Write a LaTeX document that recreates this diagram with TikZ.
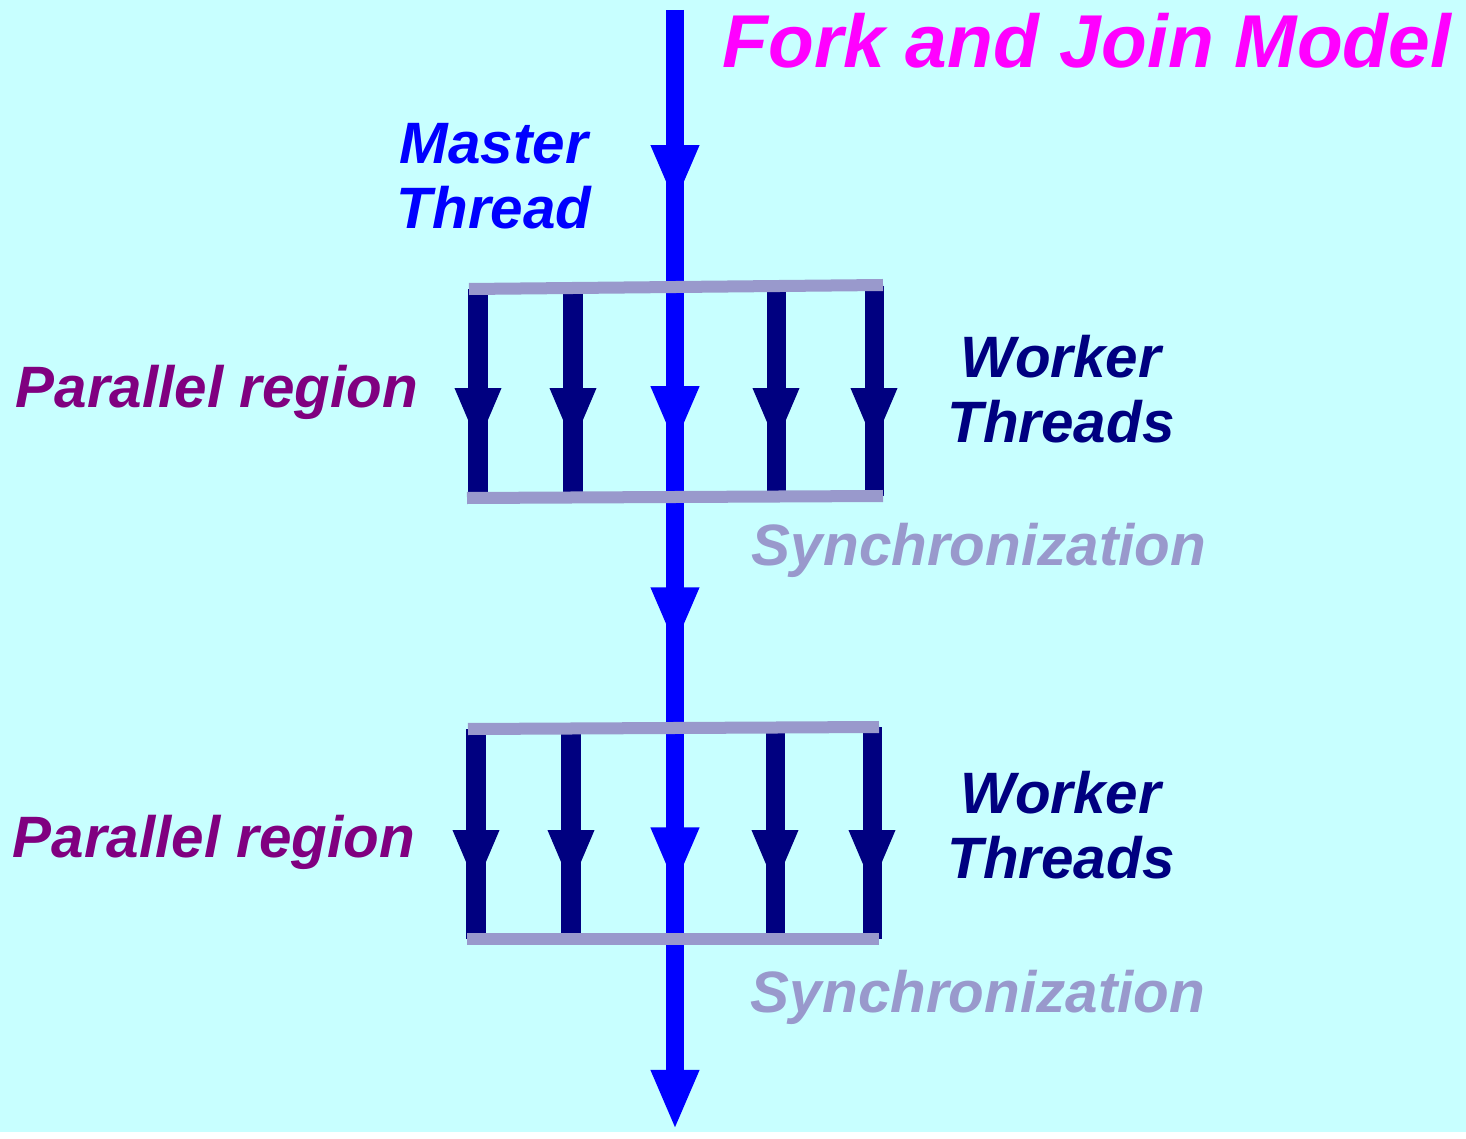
\documentclass[tikz,border=0pt]{standalone}
\usepackage{fontspec}
\setmainfont{Liberation Sans}
\usetikzlibrary{arrows.meta,decorations.markings}

\definecolor{bgcyan}{HTML}{C8FFFF}
\definecolor{masterblue}{HTML}{0000FF}
\definecolor{workernavy}{HTML}{000080}
\definecolor{barlilac}{HTML}{9999CC}
\definecolor{regionpurple}{HTML}{800080}
\definecolor{titlemagenta}{HTML}{FF00FF}

\tikzset{
  master/.style={color=masterblue, line width=0.18cm},
  worker/.style={color=workernavy, line width=0.19cm},
  syncbar/.style={color=barlilac, line width=0.12cm},
  mtip/.tip={Triangle[length=0.6cm,width=0.44cm]},
  wtip/.tip={Triangle[length=0.58cm,width=0.42cm]},
  whead/.style={postaction={decorate},
    decoration={markings, mark=at position #1 with {\arrow{wtip}}}},
  lbl/.style={font=\fontsize{16.6pt}{18.5pt}\selectfont\bfseries\itshape, inner sep=0pt},
  titlelbl/.style={font=\fontsize{21.3pt}{24pt}\selectfont\bfseries\itshape, inner sep=0pt}
}

\begin{document}
\begin{tikzpicture}[x=0.01cm, y=-0.01cm]
      \fill[bgcyan] (0,0) rectangle (1466,1132);
      \path
        (675,10) coordinate (mstart)
        (675,1130) coordinate (mend)
        (469,289) coordinate (fork1w)
        (883,285) coordinate (fork1e)
        (467,498) coordinate (join1w)
        (883,496) coordinate (join1e)
        (468,729) coordinate (fork2w)
        (879,727) coordinate (fork2e)
        (467,939) coordinate (join2w)
        (879,939) coordinate (join2e)
        (478,289) coordinate (a1) (478,497) coordinate (b1)
        (573,289) coordinate (a2) (573,497) coordinate (b2)
        (776,287) coordinate (a3) (776,496) coordinate (b3)
        (874,286) coordinate (a4) (874,496) coordinate (b4)
        (476,729) coordinate (c1) (476,939) coordinate (d1)
        (571,729) coordinate (c2) (571,939) coordinate (d2)
        (775,728) coordinate (c3) (775,939) coordinate (d3)
        (872,727) coordinate (c4) (872,939) coordinate (d4);
      \draw[master, -mtip, postaction={decorate},
        decoration={markings,
          mark=at position 1.95cm with {\arrow{mtip}},
          mark=at position 4.36cm with {\arrow{mtip}},
          mark=at position 6.37cm with {\arrow{mtip}},
          mark=at position 8.77cm with {\arrow{mtip}}}]
        (mstart) -- (mend);
      \begin{scope}[worker]
        \draw[whead=1.57cm] (a1) -- (b1);
        \draw[whead=1.57cm] (a2) -- (b2);
        \draw[whead=1.59cm] (a3) -- (b3);
        \draw[whead=1.60cm] (a4) -- (b4);
        \draw[whead=1.59cm] (c1) -- (d1);
        \draw[whead=1.59cm] (c2) -- (d2);
        \draw[whead=1.60cm] (c3) -- (d3);
        \draw[whead=1.61cm] (c4) -- (d4);
      \end{scope}
      \begin{scope}[syncbar]
        \draw (fork1w) -- (fork1e);
        \draw (join1w) -- (join1e);
        \draw (fork2w) -- (fork2e);
        \draw (join2w) -- (join2e);
      \end{scope}
      \node[titlelbl, anchor=base, text=titlemagenta] (title) at (1087,68) {Fork and Join Model};
      \node[lbl, align=center, text=masterblue] (masterlbl) at (494,176) {Master\\Thread};
      \node[lbl, anchor=base, text=regionpurple] (par1) at (217,407) {Parallel region};
      \node[lbl, align=center, text=workernavy] (work1) at (1061,389) {Worker\\Threads};
      \node[lbl, anchor=base, text=barlilac] (sync1) at (979,565) {Synchronization};
      \node[lbl, anchor=base, text=regionpurple] (par2) at (214,857) {Parallel region};
      \node[lbl, align=center, text=workernavy] (work2) at (1061,825) {Worker\\Threads};
      \node[lbl, anchor=base, text=barlilac] (sync2) at (978,1012) {Synchronization};
    \end{tikzpicture}
\end{document}
